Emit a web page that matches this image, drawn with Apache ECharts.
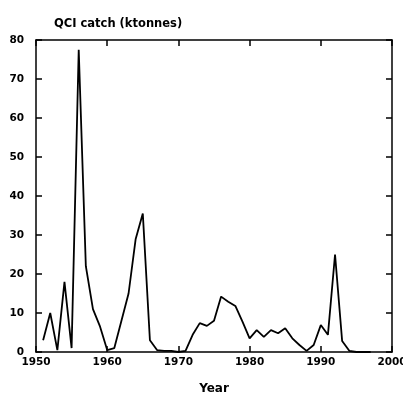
<!DOCTYPE html>
<html>
<head>
<meta charset="utf-8">
<script src="https://cdn.jsdelivr.net/npm/echarts@6/dist/echarts.min.js"></script>
<style>
  html, body { margin: 0; padding: 0; background: #fff; }
  #chart { width: 403px; height: 401px; }
</style>
</head>
<body>
<div id="chart"></div>
<script>
// QCI catch by year (ktonnes)
const years = [1951, 1952, 1953, 1954, 1955, 1956, 1957, 1958, 1959, 1960,
  1961, 1962, 1963, 1964, 1965, 1966, 1967, 1968, 1969, 1970,
  1971, 1972, 1973, 1974, 1975, 1976, 1977, 1978, 1979, 1980,
  1981, 1982, 1983, 1984, 1985, 1986, 1987, 1988, 1989, 1990,
  1991, 1992, 1993, 1994, 1995, 1996, 1997]
const catchKt = [3, 10, 0.5, 18, 1, 77.5, 22, 11, 6.5, 0.5,
  1, 8, 15, 29, 35.5, 3, 0.5, 0.3, 0.3, 0,
  0.3, 4.4, 7.4, 6.7, 8, 14.2, 12.9, 11.8, 7.8, 3.5,
  5.6, 3.9, 5.6, 4.8, 6.1, 3.5, 1.8, 0.3, 1.8, 6.9,
  4.4, 25, 2.8, 0.3, 0, 0, 0]

const font = 'DejaVu Sans, sans-serif'
const chart = echarts.init(document.getElementById('chart'))

const frameLine = { show: true, onZero: false, lineStyle: { color: '#000', width: 1.5 } }
const inTick = { show: true, inside: true, length: 6, lineStyle: { color: '#000', width: 1.5 } }
const lbl = { color: '#000', fontFamily: font, fontWeight: 'bold', fontSize: 10.5 }

chart.setOption({
  animation: false,
  title: {
    text: 'QCI catch (ktonnes)',
    left: 49,
    top: 13,
    textStyle: { color: '#000', fontFamily: font, fontWeight: 'bold', fontSize: 11.5 }
  },
  grid: { left: 36, right: 11, top: 40, bottom: 49, outerBoundsMode: 'none', containLabel: false },
  xAxis: [
    {
      type: 'value', min: 1950, max: 2000, interval: 10,
      name: 'Year', nameLocation: 'middle', nameGap: 31,
      nameTextStyle: { color: '#000', fontFamily: font, fontWeight: 'bold', fontSize: 12 },
      axisLine: frameLine, axisTick: inTick,
      axisLabel: { ...lbl, margin: 5, formatter: v => String(v) },
      splitLine: { show: false }
    },
    {
      type: 'value', min: 1950, max: 2000, interval: 10, position: 'top',
      axisLine: frameLine, axisTick: inTick,
      axisLabel: { show: false }, splitLine: { show: false }
    }
  ],
  yAxis: [
    {
      type: 'value', min: 0, max: 80, interval: 10,
      axisLine: frameLine, axisTick: inTick,
      axisLabel: { ...lbl, margin: 12 },
      splitLine: { show: false }
    },
    {
      type: 'value', min: 0, max: 80, interval: 10, position: 'right',
      axisLine: frameLine, axisTick: inTick,
      axisLabel: { show: false }, splitLine: { show: false }
    }
  ],
  series: [
    {
      name: 'QCI catch',
      type: 'line',
      showSymbol: false,
      lineStyle: { color: '#000', width: 1.8 },
      data: years.map((y, i) => [y, catchKt[i]])
    }
  ]
})
</script>
</body>
</html>
